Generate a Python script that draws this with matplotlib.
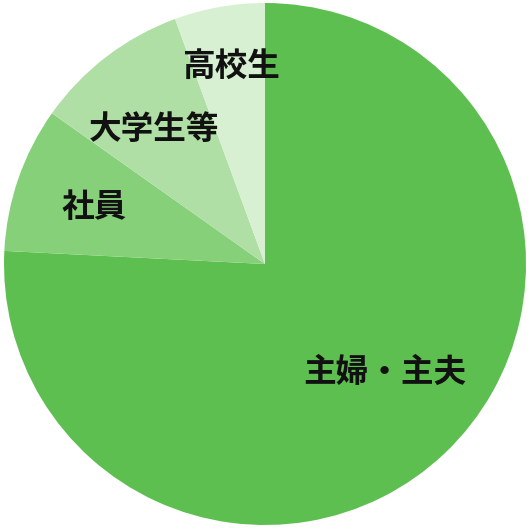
import numpy as np
import matplotlib
matplotlib.use("Agg")
import matplotlib.pyplot as plt

plt.rcParams['font.family'] = ['Noto Sans CJK JP', 'DejaVu Sans']

# Data (clockwise from 12 o'clock)
labels = ['主婦・主夫', '社員', '大学生等', '高校生']
values = [75.8, 9.0, 9.6, 5.6]
colors = ['#5ebf51', '#86d07a', '#b0dfa6', '#d8f0d2']

# label placement: distance from centre and angle nudge (degrees)
label_dist = [0.62, 0.69, 0.67, 0.77]
label_nudge = [4.3, 0.8, 2.1, -0.3]

fig = plt.figure(figsize=(5.3, 5.3), dpi=100)
ax = fig.add_axes([0, 0, 1, 1])

wedges, _ = ax.pie(values, colors=colors, startangle=90, counterclock=False,
                   radius=1.0, wedgeprops=dict(linewidth=0))

for w, lab, d, n in zip(wedges, labels, label_dist, label_nudge):
    ang = np.deg2rad((w.theta1 + w.theta2) / 2 + n)
    ax.text(d * np.cos(ang), d * np.sin(ang), lab, ha='center', va='center',
            fontsize=23.5, fontweight='bold', color='#111111')

r = 261.0
ax.set_xlim(-265 / r, 265 / r)
ax.set_ylim(-266 / r, 264 / r)
ax.set_aspect('equal')
ax.axis('off')

fig.savefig('out.png', dpi=100)
